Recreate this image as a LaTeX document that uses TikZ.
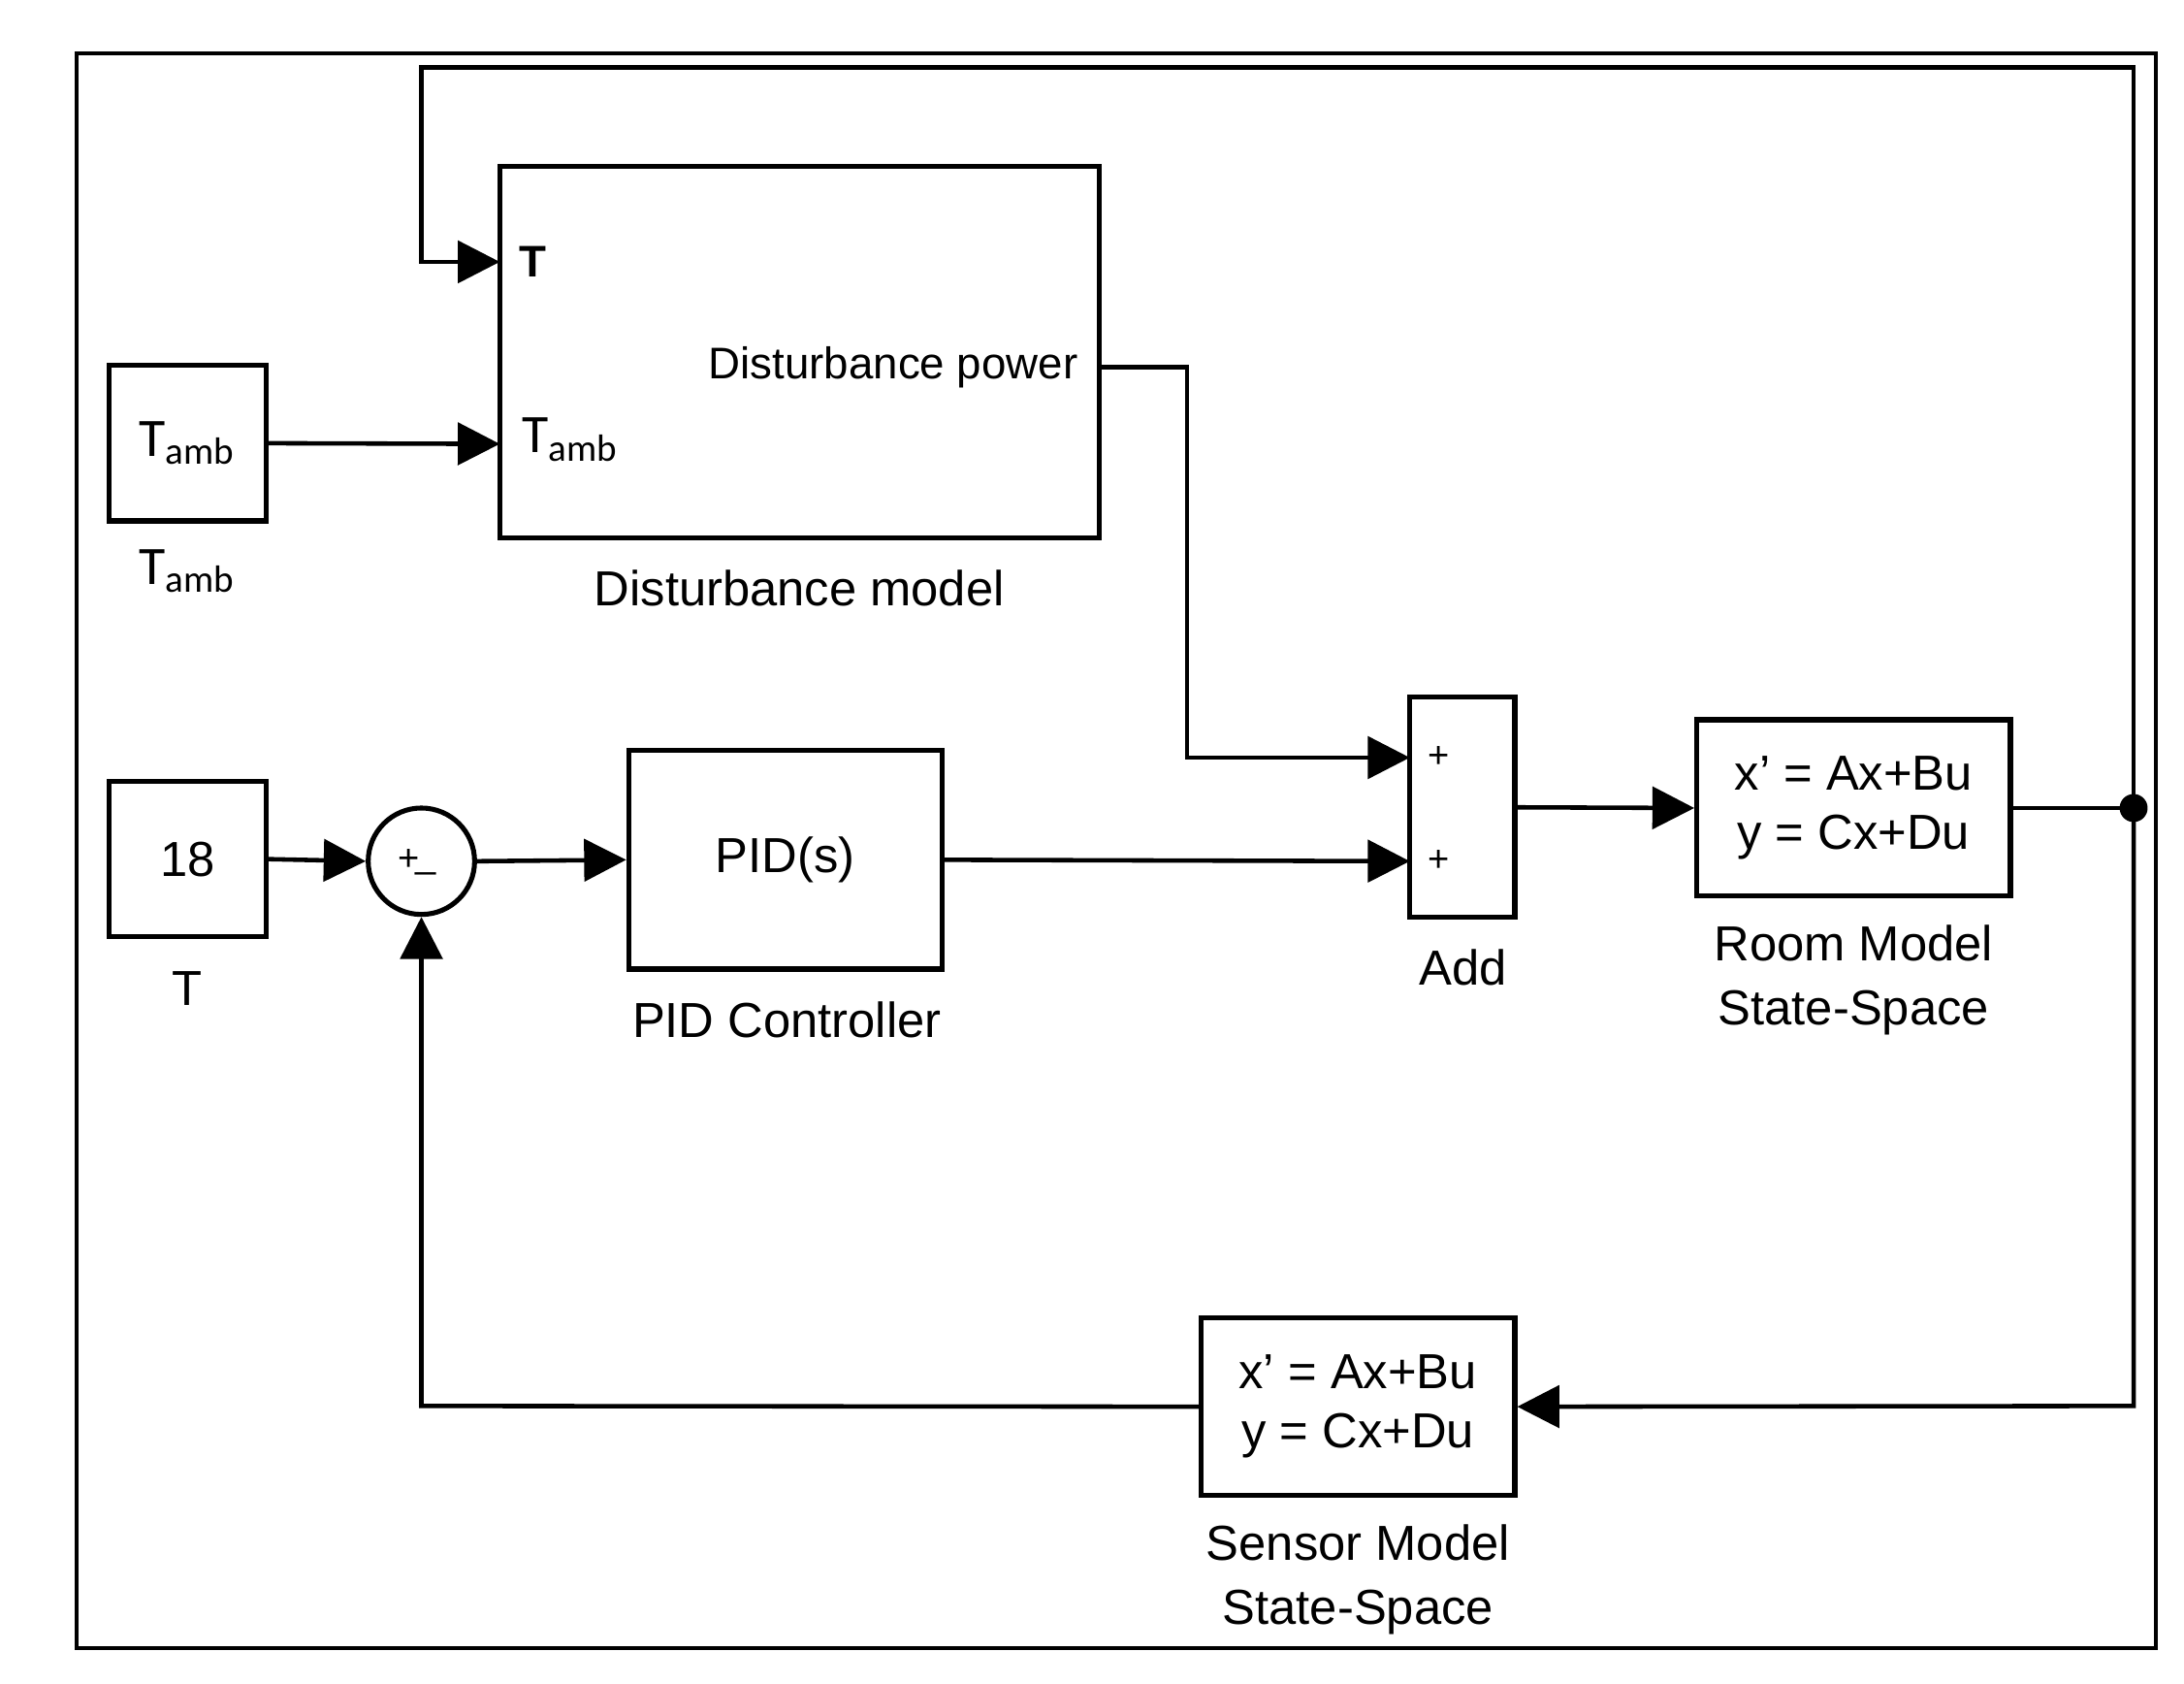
\documentclass[tikz,border=0pt]{standalone}
\usepackage{fontspec}
\setmainfont{Liberation Sans}
\newfontfamily\calib{Carlito}
\usetikzlibrary{arrows.meta,calc}
\begin{document}
\begin{tikzpicture}[x=0.1mm,y=-0.1mm,line width=0.9pt,
  blk/.style={draw,line width=1pt,inner sep=0pt},
  lab/.style={font=\fontsize{10}{11}\selectfont,align=center},
  sig/.style={-{Triangle[length=3mm,width=3mm]}},
  txt/.style={font=\fontsize{9}{11}\selectfont,inner sep=1pt}]
\useasboundingbox (0,0) rectangle (1560,1202);
\draw[line width=0.8pt] (55,38) rectangle (1540,1177);
% blocks
\node[blk,minimum width=11.2mm,minimum height=11.1mm] (tamb) at (134,316.5) {\calib\fontsize{11}{13}\selectfont T\textsubscript{amb}};
\node[lab,font=\calib\fontsize{11}{13}\selectfont] at (134,408) {T\textsubscript{amb}};
\node[blk,minimum width=42.8mm,minimum height=26.5mm] (dist) at (571,251.5) {};
\node[lab] at (571,420) {Disturbance model};
\node[txt,anchor=west,font=\bfseries\fontsize{9}{11}\selectfont] at (366,187) {T};
\node[txt,anchor=west,font=\calib\fontsize{11}{13}\selectfont] at (368,314) {T\textsubscript{amb}};
\node[txt,anchor=east] at (775,262) {Disturbance power};
\node[blk,minimum width=11.2mm,minimum height=11.1mm,font=\fontsize{10}{12}\selectfont] (c18) at (134,613.5) {18};
\node[lab] at (134,706) {T};
\node[draw,circle,minimum size=7.6mm,inner sep=0pt,line width=1pt] (sum) at (301,615) {};
\node[font=\fontsize{7.5}{9}\selectfont] at (292,614) {+};
\node[font=\fontsize{7.5}{9}\selectfont] at (304,622) {\_};
\node[blk,minimum width=22.4mm,minimum height=15.6mm,font=\fontsize{10}{12}\selectfont] (pid) at (561,614) {PID(s)};
\node[lab] at (562,728) {PID Controller};
\node[blk,minimum width=7.5mm,minimum height=15.7mm] (add) at (1044.5,576.5) {};
\node[txt,font=\fontsize{7.5}{9}\selectfont] at (1028,541) {+};
\node[txt,font=\fontsize{7.5}{9}\selectfont] at (1028,615) {+};
\node[lab] at (1045,691) {Add};
\node[blk,minimum width=22.4mm,minimum height=12.6mm,font=\fontsize{10}{12}\selectfont,align=center] (room) at (1324,577) {x{\char39} = Ax+Bu\\ y = Cx+Du};
\node[lab] at (1324,700) {Room Model\\[2pt]State-Space};
\node[blk,minimum width=22.4mm,minimum height=12.7mm,font=\fontsize{10}{12}\selectfont,align=center] (sens) at (970,1004.5) {x{\char39} = Ax+Bu\\ y = Cx+Du};
\node[lab] at (970,1128) {Sensor Model\\[2pt]State-Space};
\fill (1524,577) circle (1mm);
\coordinate (dot) at (1524,577);
% connectors
\draw[sig] (tamb.east) -- (357,317);
\draw[sig] (dot) -- (1524,48) -- (301,48) -- (301,187) -- (357,187);
\draw[sig] (785,262) -- (848,262) -- (848,541) -- (1007,541);
\draw[sig] (c18.east) -- (sum.west);
\draw[sig] (sum.east) -- (pid.west);
\draw[sig] (pid.east) -- (1007,615);
\draw[sig] (add.east) -- (room.west);
\draw (room.east) -- (dot);
\draw[sig] (dot) -- (1524,1004) -- (sens.east);
\draw[sig] (sens.west) -- (301,1004) -- (sum.south);
\end{tikzpicture}
\end{document}
